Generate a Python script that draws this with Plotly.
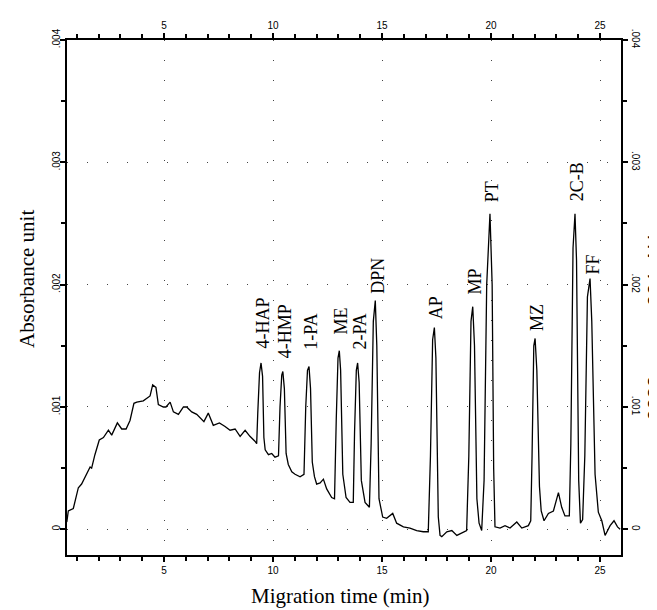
import plotly.graph_objects as go

# ---- data ----
migration_time = [
    0.54, 0.61, 0.84, 1.07, 1.22, 1.45, 1.61, 1.68, 1.83, 2.03, 2.22, 2.45, 2.60, 2.86,
    3.06, 3.26, 3.44, 3.62, 3.75, 4.05, 4.28, 4.36, 4.48, 4.63, 4.74, 4.97, 5.09, 5.28,
    5.43, 5.66, 5.89, 6.04, 6.27, 6.50, 6.83, 7.03, 7.26, 7.54, 7.80, 8.03, 8.26, 8.49,
    8.72, 8.94, 9.17, 9.25, 9.30, 9.38, 9.45, 9.52, 9.58, 9.64, 9.79, 9.94, 10.09, 10.25,
    10.32, 10.40, 10.45, 10.52, 10.60, 10.70, 10.86, 11.01, 11.24, 11.42, 11.50, 11.58,
    11.65, 11.72, 11.80, 11.90, 12.00, 12.16, 12.31, 12.46, 12.69, 12.82, 12.90, 12.98,
    13.04, 13.10, 13.20, 13.35, 13.53, 13.68, 13.74, 13.82, 13.88, 13.95, 14.05, 14.22,
    14.42, 14.50, 14.60, 14.69, 14.76, 14.86, 15.03, 15.21, 15.49, 15.67, 15.98, 16.28,
    16.59, 16.89, 17.12, 17.22, 17.32, 17.40, 17.47, 17.58, 17.66, 17.74, 17.97, 18.20,
    18.43, 18.66, 18.88, 18.98, 19.08, 19.16, 19.24, 19.35, 19.45, 19.57, 19.68, 19.80,
    19.95, 20.05, 20.12, 20.18, 20.41, 20.64, 20.87, 21.18, 21.41, 21.71, 21.82, 21.88,
    21.96, 22.02, 22.10, 22.22, 22.30, 22.43, 22.63, 22.86, 23.09, 23.24, 23.39, 23.59,
    23.66, 23.76, 23.85, 23.92, 24.02, 24.10, 24.20, 24.30, 24.42, 24.54, 24.62, 24.77,
    24.92, 25.08, 25.23, 25.46, 25.64, 25.80, 25.92,
]
absorbance = [
    0.000059, 0.00015, 0.00017, 0.00034, 0.00037, 0.00046, 0.00051, 0.00050, 0.00061,
    0.00073, 0.00075, 0.00081, 0.00077, 0.00087, 0.00082, 0.00082, 0.00089, 0.00103,
    0.00104, 0.00105, 0.00108, 0.00109, 0.00118, 0.00116, 0.00102, 0.00100, 0.00100,
    0.00104, 0.00096, 0.00094, 0.00100, 0.00100, 0.00096, 0.00094, 0.00088, 0.00095,
    0.00085, 0.00087, 0.00084, 0.00081, 0.00082, 0.00076, 0.00081, 0.00076, 0.00072,
    0.00070, 0.00095, 0.00128, 0.00136, 0.00125, 0.00075, 0.00065, 0.00061, 0.00062,
    0.00059, 0.00060, 0.00100, 0.00126, 0.00129, 0.00115, 0.00062, 0.00053, 0.00047,
    0.00045, 0.00043, 0.00045, 0.00100, 0.00130, 0.00133, 0.00115, 0.00055, 0.00043,
    0.00037, 0.00038, 0.00041, 0.00033, 0.00026, 0.00025, 0.00090, 0.00140, 0.00146,
    0.00130, 0.00045, 0.00026, 0.00022, 0.00022, 0.00080, 0.00130, 0.00136, 0.00120,
    0.00040, 0.00022, 0.00018, 0.00070, 0.00170, 0.00187, 0.00150, 0.00025, 0.00010,
    0.00009, 0.00013, 0.00005, 0.00002, 0.00001, -0.00001, -0.00002, -0.00002, 0.00060,
    0.00155, 0.00165, 0.00140, 0.00010, -0.00005, -0.00006, -0.00002, -0.00001, -0.00005,
    -0.00003, -0.00001, 0.00060, 0.00170, 0.00182, 0.00150, 0.00025, 0.00005, -0.00001,
    0.00040, 0.00200, 0.00258, 0.00200, 0.00050, 0.00002, 0.00001, 0.00003, 0.00001,
    0.00006, 0.00001, 0.00003, 0.00007, 0.00060, 0.00150, 0.00156, 0.00130, 0.00035,
    0.00015, 0.00007, 0.00013, 0.00015, 0.00030, 0.00018, 0.00011, 0.00011, 0.00070,
    0.00230, 0.00258, 0.00220, 0.00040, 0.00005, 0.00008, 0.00060, 0.00190, 0.00205,
    0.00170, 0.00045, 0.00014, 0.00007, -0.00005, 0.00003, 0.00007, 0.00002, 0.00000,
]

peak_names = ["4-HAP", "4-HMP", "1-PA", "ME", "2-PA", "DPN", "AP", "MP", "PT", "MZ", "2C-B", "FF"]
peak_times = [9.45, 10.45, 11.65, 13.04, 13.88, 14.69, 17.40, 19.16, 19.95, 22.02, 23.85, 24.54]
peak_heights = [0.00136, 0.00129, 0.00133, 0.00146, 0.00136, 0.00187, 0.00165, 0.00182,
                0.00258, 0.00156, 0.00258, 0.00205]

x_tick_values = [5, 10, 15, 20, 25]
x_tick_labels = ["5", "10", "15", "20", "25"]
y_tick_values = [0, 0.001, 0.002, 0.003, 0.004]
y_tick_labels = ["0", ".001", ".002", ".003", ".004"]

x_title = "Migration time (min)"
y_title = "Absorbance unit"
scale_note = "-  .0083   - - -   .004  AU"

# ---- figure ----
X_RANGE = [0.55, 25.96]
Y_RANGE = [-0.00021, 0.0040]
SERIF = "Liberation Serif, Times New Roman, serif"
SANS = "Liberation Sans, Arial, sans-serif"

fig = go.Figure()
fig.add_trace(go.Scatter(
    x=migration_time, y=absorbance, mode="lines",
    line=dict(color="black", width=1.3), hoverinfo="skip", showlegend=False,
))
# invisible copy to activate the top / right axes
fig.add_trace(go.Scatter(
    x=migration_time, y=absorbance, mode="lines", xaxis="x2", yaxis="y2",
    line=dict(color="rgba(0,0,0,0)", width=0), hoverinfo="skip", showlegend=False,
))

grid = dict(showgrid=True, gridcolor="#444", gridwidth=1, griddash="1px,19px")
tickfont = dict(family=SANS, size=10, color="black")
minor_x = dict(dtick=1, ticks="outside", ticklen=4, tickcolor="black", tickwidth=1.5, showgrid=False)
minor_y = dict(dtick=0.0005, ticks="outside", ticklen=4, tickcolor="black", tickwidth=1.5, showgrid=False)

common_x = dict(range=X_RANGE, tickmode="array", tickvals=x_tick_values, ticktext=x_tick_labels,
                ticks="outside", ticklen=5, tickwidth=1.5, tickcolor="black",
                showline=True, linecolor="black", linewidth=1.5, zeroline=False,
                tickfont=tickfont, minor=minor_x)
common_y = dict(range=Y_RANGE, tickmode="array", tickvals=y_tick_values, ticktext=y_tick_labels,
                ticks="outside", ticklen=5, tickwidth=1.5, tickcolor="black",
                showline=True, linecolor="black", linewidth=1.8, zeroline=False,
                tickfont=tickfont, minor=minor_y)

# the page body adds an 8 px offset, so the margins are shifted by 8 px
fig.update_layout(
    width=657, height=610,
    margin=dict(l=59, r=44, t=21, b=63),
    paper_bgcolor="white", plot_bgcolor="white",
    showlegend=False,
    xaxis=dict(**common_x, side="bottom", **grid),
    xaxis2=dict(**common_x, side="top", overlaying="x", showgrid=False),
    yaxis=dict(**common_y, side="left", tickangle=-90, ticklabelstandoff=-4, **grid),
    yaxis2=dict(**common_y, side="right", overlaying="y", tickangle=90, showgrid=False),
)

label_gap = {"4-HAP": 12, "4-HMP": 11, "1-PA": 15, "ME": 14, "2-PA": 11, "DPN": 5,
             "AP": 6, "MP": 10, "PT": 10, "MZ": 5, "2C-B": 10, "FF": 2}
for name, t, h in zip(peak_names, peak_times, peak_heights):
    fig.add_annotation(
        x=t, y=h, xref="x", yref="y", text=name, showarrow=False,
        textangle=-90, xanchor="center", yanchor="bottom",
        xshift=2, yshift=label_gap[name],
        font=dict(family=SERIF, size=18, color="black"),
    )

fig.add_annotation(
    x=0.5, y=0, xref="paper", yref="paper", text=x_title, showarrow=False,
    xanchor="center", yanchor="top", yshift=-27, xshift=-4,
    font=dict(family=SERIF, size=21, color="black"),
)
fig.add_annotation(
    x=0, y=0.536, xref="paper", yref="paper", text=y_title, showarrow=False,
    textangle=-90, xanchor="center", yanchor="middle", xshift=-40,
    font=dict(family=SERIF, size=21, color="black"),
)
fig.add_annotation(
    x=1, y=0.418, xref="paper", yref="paper", text=scale_note, showarrow=False,
    textangle=-90, xanchor="center", yanchor="middle", xshift=34,
    font=dict(family=SANS, size=20, color="black"),
)

fig.write_html("out.html")
